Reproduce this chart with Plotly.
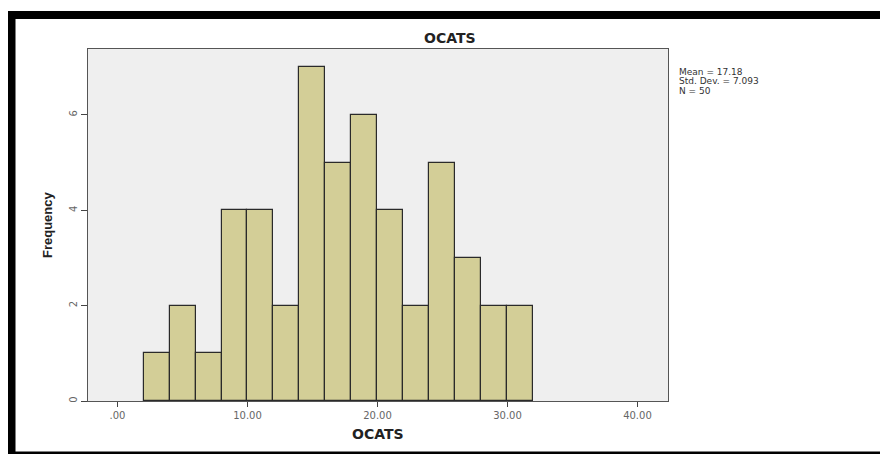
import plotly.graph_objects as go

# Data
bin_starts = [2, 4, 6, 8, 10, 12, 14, 16, 18, 20, 22, 24, 26, 28, 30]
counts = [1, 2, 1, 4, 4, 2, 7, 5, 6, 4, 2, 5, 3, 2, 2]
bin_width = 2
x_tick_vals = [0, 10, 20, 30, 40]
x_tick_text = [".00", "10.00", "20.00", "30.00", "40.00"]
y_tick_vals = [0, 2, 4, 6]
stats_lines = ["Mean = 17.18", "Std. Dev. = 7.093", "N = 50"]
title_text = "OCATS"
x_title = "OCATS"
y_title = "Frequency"

W, H = 880, 454
L, R, T, B = 88, 668, 49, 401


def px(x):
    return (x - L) / (R - L)


def py(y):
    return (B - y) / (B - T)


fig = go.Figure()
fig.add_trace(go.Bar(
    x=[s + bin_width / 2 for s in bin_starts],
    y=counts,
    width=bin_width,
    marker=dict(color="#D3CE97", line=dict(color="#2a2a2a", width=1.2)),
    hoverinfo="skip",
))

font_family = "Liberation Sans, Arial, sans-serif"
wide_font = "DejaVu Sans, Verdana, sans-serif"

fig.update_layout(
    width=W, height=H,
    margin=dict(l=L, r=W - R, t=T, b=H - B, pad=0),
    paper_bgcolor="white",
    plot_bgcolor="#EFEFEF",
    showlegend=False,
    bargap=0,
    font=dict(family=font_family, color="#555555"),
    xaxis=dict(
        range=[-2.27, 42.35],
        tickvals=x_tick_vals, ticktext=x_tick_text,
        ticks="outside", ticklen=5, tickcolor="#444444",
        showgrid=False, zeroline=False,
        showline=True, linecolor="#555555", linewidth=1, mirror=True,
        tickfont=dict(size=10, color="#666666", family=wide_font),
    ),
    yaxis=dict(
        range=[0, 7.38],
        tickvals=y_tick_vals,
        ticks="outside", ticklen=6, tickcolor="#444444",
        tickangle=-90,
        showgrid=False, zeroline=False,
        showline=True, linecolor="#555555", linewidth=1, mirror=True,
        tickfont=dict(size=10, color="#666666", family=wide_font),
    ),
)

annotations = [
    dict(text="<b>" + title_text + "</b>", x=px(450), y=py(38), xref="paper", yref="paper",
         xanchor="center", yanchor="middle", showarrow=False,
         font=dict(size=14, color="#222222", family=wide_font)),
    dict(text="<b>" + x_title + "</b>", x=px(378), y=py(434), xref="paper", yref="paper",
         xanchor="center", yanchor="middle", showarrow=False,
         font=dict(size=14, color="#222222", family=wide_font)),
    dict(text="<b>" + y_title + "</b>", x=px(47), y=py(225), xref="paper", yref="paper",
         xanchor="center", yanchor="middle", showarrow=False, textangle=-90,
         font=dict(size=13, color="#222222", family=font_family)),
]
for i, line in enumerate(stats_lines):
    annotations.append(dict(
        text=line, x=px(677), y=py(72 + 9.5 * i), xref="paper", yref="paper",
        xanchor="left", yanchor="middle", showarrow=False,
        font=dict(size=9, color="#333333", family=wide_font),
    ))
fig.update_layout(annotations=annotations)

shapes = [
    # top thick band
    dict(type="rect", xref="paper", yref="paper", x0=px(8), x1=px(880), y0=py(19), y1=py(11),
         fillcolor="black", line=dict(width=0), layer="above"),
    # left thick band
    dict(type="rect", xref="paper", yref="paper", x0=px(8), x1=px(15.5), y0=py(454), y1=py(11),
         fillcolor="black", line=dict(width=0), layer="above"),
    # bottom thin line
    dict(type="rect", xref="paper", yref="paper", x0=px(8), x1=px(880), y0=py(454), y1=py(451.5),
         fillcolor="black", line=dict(width=0), layer="above"),
]
fig.update_layout(shapes=shapes)

fig.write_html("out.html")
